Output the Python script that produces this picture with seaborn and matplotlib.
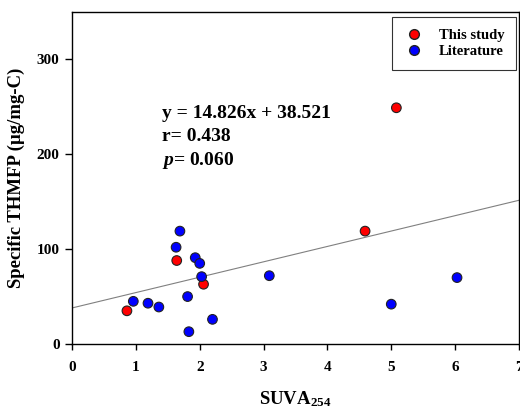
import matplotlib
matplotlib.use("Agg")
import matplotlib.pyplot as plt
import seaborn as sns
import pandas as pd
from matplotlib.lines import Line2D

# Data
study_x = [0.86, 1.64, 2.06, 4.59, 5.08]
study_y = [35, 88, 63, 119, 249]
lit_x = [0.96, 1.19, 1.36, 1.63, 1.69, 1.93, 2.00, 2.03, 1.81, 1.83, 2.20, 3.09, 5.00, 6.03]
lit_y = [45, 43, 39, 102, 119, 91, 85, 71, 50, 13, 26, 72, 42, 70]
line_x = [0, 7]
line_y = [38.0, 151.5]
x_ticks = [0, 1, 2, 3, 4, 5, 6, 7]
y_ticks = [0, 100, 200, 300]
groups = ["This study", "Literature"]

df = pd.DataFrame({
    "x": study_x + lit_x,
    "y": study_y + lit_y,
    "group": [groups[0]] * len(study_x) + [groups[1]] * len(lit_x),
})

sns.set_style("ticks")
plt.rcParams["font.family"] = ["Liberation Serif", "DejaVu Serif"]
plt.rcParams["mathtext.fontset"] = "custom"
plt.rcParams["mathtext.rm"] = "Liberation Serif:bold"
plt.rcParams["mathtext.it"] = "Liberation Serif:italic:bold"
plt.rcParams["mathtext.bf"] = "Liberation Serif:bold"
for k in ["text.color", "axes.labelcolor", "xtick.color", "ytick.color", "axes.edgecolor"]:
    plt.rcParams[k] = "black"

fig = plt.figure(figsize=(5.2, 4.12), dpi=100)
ax = fig.add_axes([0.1385, 0.165, 0.8595, 0.806])

sns.lineplot(x=line_x, y=line_y, ax=ax, color="#808080", linewidth=0.8, zorder=1)
sns.scatterplot(data=df, x="x", y="y", hue="group",
                palette={"This study": "#ff0000", "Literature": "#0000ff"},
                s=48, edgecolor="#222222", linewidth=0.8, ax=ax, zorder=3, legend=False)

ax.set_xlim(0, 7)
ax.set_ylim(0, 350)
ax.set_xticks(x_ticks)
ax.set_yticks(y_ticks)
ax.set_xticklabels([str(t) for t in x_ticks], fontweight="bold", fontsize=11)
ax.set_yticklabels([str(t) for t in y_ticks], fontweight="bold", fontsize=11)
ax.tick_params(axis="y", direction="out", length=5, width=1, pad=4)
ax.tick_params(axis="x", direction="out", length=4, width=1, pad=8)
for s in ax.spines.values():
    s.set_visible(True)
    s.set_linewidth(1.0)

ax.set_xlabel(r"SUVA$_{\mathbf{254}}$", fontsize=13.5, fontweight="bold", labelpad=11)
ax.set_ylabel("Specific THMFP (\u00b5g/mg-C)", fontsize=13.5, fontweight="bold", labelpad=8)

ax.text(1.41, 238, "y = 14.826x + 38.521", fontsize=14, fontweight="bold")
ax.text(1.41, 214.5, "r= 0.438", fontsize=14, fontweight="bold")
ax.text(1.41, 189, r"$p$= 0.060", fontsize=14, fontweight="bold")

handles = [Line2D([], [], marker="o", linestyle="", markerfacecolor="#ff0000",
                  markeredgecolor="#222222", markersize=7),
           Line2D([], [], marker="o", linestyle="", markerfacecolor="#0000ff",
                  markeredgecolor="#222222", markersize=7)]
leg = ax.legend(handles, groups, loc="upper right", bbox_to_anchor=(0.993, 0.985),
                borderaxespad=0, frameon=True, fancybox=False, edgecolor="black",
                prop={"family": "Liberation Serif", "weight": "bold", "size": 10.5},
                handletextpad=0.9, borderpad=0.8, labelspacing=0.2, handlelength=1.5)
leg.get_frame().set_linewidth(0.8)

fig.savefig("out.png", dpi=100)
